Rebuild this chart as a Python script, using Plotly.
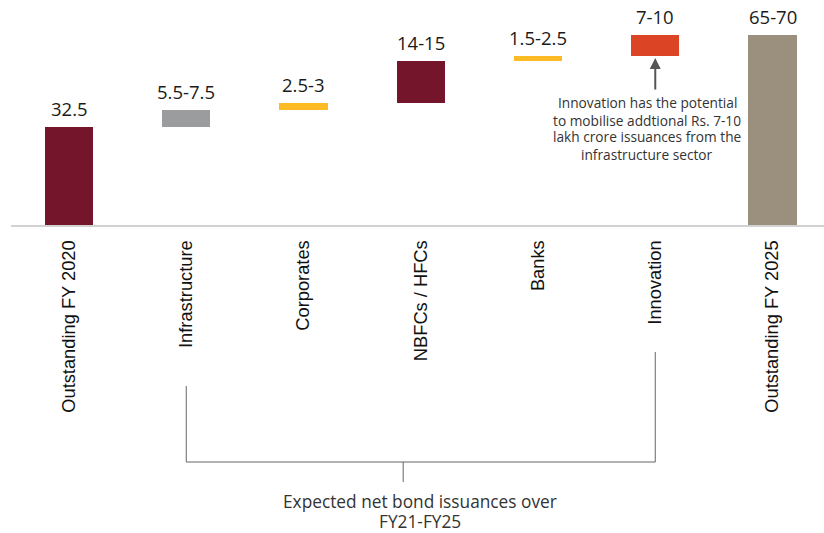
import plotly.graph_objects as go

# Bond market build-up: opening stock, expected net issuances by segment, closing stock
categories = ["Outstanding FY 2020", "Infrastructure", "Corporates", "NBFCs / HFCs",
              "Banks", "Innovation", "Outstanding FY 2025"]
opening_stock = 32.5
segment_low = [5.5, 2.5, 14.0, 1.5, 7.0]          # lower end of each expected range (Rs lakh crore)
value_labels = ["32.5", "5.5-7.5", "2.5-3", "14-15", "1.5-2.5", "7-10", "65-70"]
bar_colors = ["#74152b", "#9a9c9d", "#fcbb24", "#74152b", "#fcbb24", "#dc4426", "#9b8f7e"]
note_lines = ["Innovation has the potential", "to mobilise addtional Rs. 7-10",
              "lakh crore issuances from the", "infrastructure sector"]
bracket_lines = ["Expected net bond issuances over", "FY21-FY25"]

# floating bars: each segment starts where the previous one ended
bases = [0.0]
heights = [opening_stock]
running = opening_stock
for v in segment_low:
    bases.append(running)
    heights.append(v)
    running += v
bases.append(0.0)
heights.append(running)
tops = [b + h for b, h in zip(bases, heights)]

fig = go.Figure(go.Bar(
    x=list(range(len(categories))), y=heights, base=bases,
    marker=dict(color=bar_colors, line=dict(width=0)),
    width=0.41, hoverinfo="skip",
))

PLOT_H = 225  # pixel height of the plotting area


def paper_y(px):
    """Convert a pixel row (from the top of the page) to paper y."""
    return (PLOT_H - px) / PLOT_H


# value labels above each bar
for i, (t, lab) in enumerate(zip(tops, value_labels)):
    fig.add_annotation(x=i, y=t, text=lab, showarrow=False, yanchor="bottom",
                       yshift=4, font=dict(family="Open Sans", size=18.5, color="#1a1a1a"))

# arrow pointing to the Innovation bar
innov = categories.index("Innovation")
fig.add_annotation(x=innov, y=bases[innov], text="", showarrow=True, ax=0, ay=35,
                   arrowhead=2, arrowsize=1.1, arrowwidth=2, arrowcolor="#555555",
                   standoff=2)
for k, line in enumerate(note_lines):
    fig.add_annotation(x=innov, xshift=-8, y=paper_y(103 + 17 * k), yref="paper",
                       yanchor="middle", text=line, showarrow=False,
                       font=dict(family="Open Sans", size=13.7, color="#333333"))

# bracket grouping the issuance segments
first, last = 1, innov
line_style = dict(color="#666666", width=1)
fig.add_shape(type="line", xref="x", yref="paper", x0=first, x1=first,
              y0=paper_y(386), y1=paper_y(462), line=line_style)
fig.add_shape(type="line", xref="x", yref="paper", x0=last, x1=last,
              y0=paper_y(352), y1=paper_y(462), line=line_style)
fig.add_shape(type="line", xref="x", yref="paper", x0=first, x1=last,
              y0=paper_y(462), y1=paper_y(462), line=line_style)
fig.add_shape(type="line", xref="x", yref="paper", x0=2.85, x1=2.85,
              y0=paper_y(462), y1=paper_y(482), line=line_style)
for k, line in enumerate(bracket_lines):
    fig.add_annotation(x=2.99, y=paper_y(501 + 20.5 * k), yref="paper", yanchor="middle",
                       text=line, showarrow=False,
                       font=dict(family="Open Sans", size=17.3, color="#333333"))

fig.update_layout(
    width=824, height=533,
    margin=dict(l=11, r=0, t=0, b=533 - PLOT_H, pad=0),
    plot_bgcolor="white", paper_bgcolor="white",
    showlegend=False,
    bargap=0,
    xaxis=dict(
        range=[-0.4947, 6.439], tickmode="array",
        tickvals=list(range(len(categories))), ticktext=categories,
        tickangle=-90, ticks="outside", ticklen=6, tickcolor="rgba(0,0,0,0)",
        showgrid=False, zeroline=False,
        showline=True, linecolor="#d2d2d2", linewidth=2,
        tickfont=dict(family="Liberation Sans", size=18.3, color="#111111"),
        fixedrange=True,
    ),
    yaxis=dict(range=[0, PLOT_H / 3.016], visible=False, fixedrange=True),
)

fig.write_html("out.html")
